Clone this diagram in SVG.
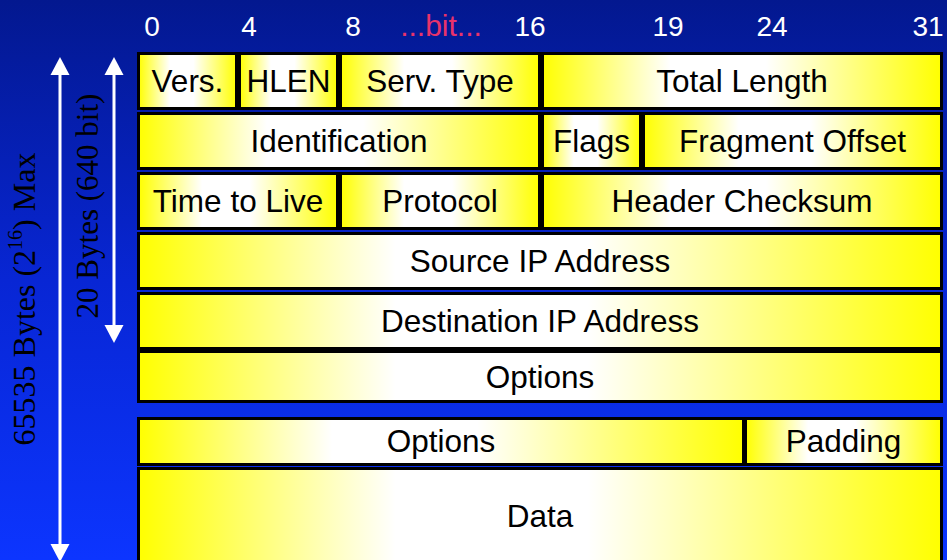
<svg xmlns="http://www.w3.org/2000/svg" width="947" height="560" viewBox="0 0 947 560">
<defs>
<linearGradient id="bg" x1="0" y1="0" x2="0" y2="1">
<stop offset="0" stop-color="#03188f"/>
<stop offset="0.5" stop-color="#0826d4"/>
<stop offset="1" stop-color="#0c35ff"/>
</linearGradient>
<linearGradient id="cell" x1="0" y1="0" x2="1" y2="0">
<stop offset="0" stop-color="#ffff00"/>
<stop offset="0.32" stop-color="#ffffff"/>
<stop offset="0.56" stop-color="#ffffff"/>
<stop offset="1" stop-color="#ffff00"/>
</linearGradient>
<style>
.c{fill:url(#cell);stroke:#000;stroke-width:3}
.t{font-family:"Liberation Sans",Arial,sans-serif;font-size:31.5px;fill:#000;text-anchor:middle}
.b{font-family:"Liberation Sans",Arial,sans-serif;font-size:28px;fill:#fff;text-anchor:middle}
.v{font-family:"Liberation Serif","Times New Roman",serif;fill:#000;text-anchor:middle}
.a{stroke:#fff;stroke-width:3;fill:none}
.h{fill:#fff}
</style>
</defs>
<rect x="0" y="0" width="947" height="560" fill="url(#bg)"/>

<g id="bit-labels">
<text class="b" x="152" y="36">0</text>
<text class="b" x="249" y="36">4</text>
<text class="b" x="353" y="36">8</text>
<text class="b" x="441" y="36" style="fill:#e8336b;font-size:30px">...bit...</text>
<text class="b" x="530" y="36">16</text>
<text class="b" x="668" y="36">19</text>
<text class="b" x="772" y="36">24</text>
<text class="b" x="928" y="36">31</text>
</g>

<g id="connectors">
<line class="a" x1="60" y1="70" x2="60" y2="548"/>
<polygon class="h" points="60,57 50.5,75 69.5,75"/>
<polygon class="h" points="60,562 50.5,544 69.5,544"/>
<line class="a" x1="114" y1="70" x2="114" y2="330"/>
<polygon class="h" points="114,57 104.5,75 123.5,75"/>
<polygon class="h" points="114,343 104.5,325 123.5,325"/>
</g>

<g id="label-total">
<text class="v" font-size="32" transform="translate(35,299) rotate(-90)">65535 Bytes (2<tspan font-size="20" dy="-13">16</tspan><tspan dy="13">) Max</tspan></text>
</g>
<g id="label-header">
<text class="v" font-size="31" transform="translate(98,206) rotate(-90)">20 Bytes (640 bit)</text>
</g>

<g id="vers"><rect class="c" x="138.5" y="53.5" width="98" height="55"/><text class="t" x="187.5" y="92">Vers.</text></g>
<g id="hlen"><rect class="c" x="239.5" y="53.5" width="98" height="55"/><text class="t" x="288.5" y="92">HLEN</text></g>
<g id="servtype"><rect class="c" x="340.5" y="53.5" width="199" height="55"/><text class="t" x="440" y="92">Serv. Type</text></g>
<g id="totallength"><rect class="c" x="542.5" y="53.5" width="399" height="55"/><text class="t" x="742" y="92">Total Length</text></g>

<g id="identification"><rect class="c" x="138.5" y="113.5" width="401" height="55"/><text class="t" x="339" y="152">Identification</text></g>
<g id="flags"><rect class="c" x="542.5" y="113.5" width="98" height="55"/><text class="t" x="591.5" y="152">Flags</text></g>
<g id="fragoffset"><rect class="c" x="643.5" y="113.5" width="298" height="55"/><text class="t" x="792.5" y="152">Fragment Offset</text></g>

<g id="ttl"><rect class="c" x="138.5" y="173.5" width="199" height="55"/><text class="t" x="238" y="212">Time to Live</text></g>
<g id="protocol"><rect class="c" x="340.5" y="173.5" width="199" height="55"/><text class="t" x="440" y="212">Protocol</text></g>
<g id="checksum"><rect class="c" x="542.5" y="173.5" width="399" height="55"/><text class="t" x="742" y="212">Header Checksum</text></g>

<g id="sourceip"><rect class="c" x="138.5" y="233.5" width="803" height="55"/><text class="t" x="540" y="272">Source IP Address</text></g>
<g id="destip"><rect class="c" x="138.5" y="293.5" width="803" height="55"/><text class="t" x="540" y="332">Destination IP Address</text></g>
<g id="options1"><rect class="c" x="138.5" y="351.5" width="803" height="50"/><text class="t" x="540" y="388">Options</text></g>

<g id="options2"><rect class="c" x="138.5" y="418.5" width="605" height="46"/><text class="t" x="441" y="452">Options</text></g>
<g id="padding"><rect class="c" x="745.5" y="418.5" width="196" height="46"/><text class="t" x="843.5" y="452">Padding</text></g>
<g id="data"><rect class="c" x="138.5" y="468.5" width="803" height="95"/><text class="t" x="540" y="527">Data</text></g>
</svg>
